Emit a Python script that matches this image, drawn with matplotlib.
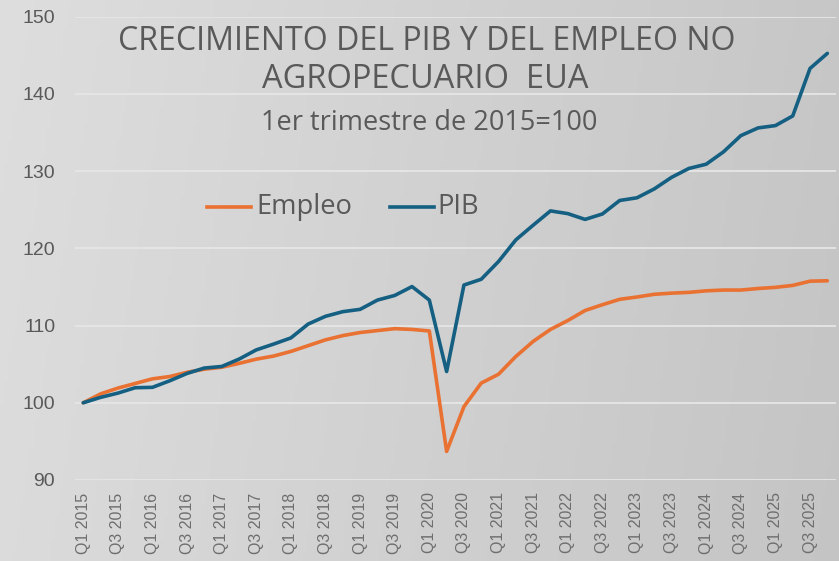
import numpy as np
import matplotlib
matplotlib.use("Agg")
import matplotlib.pyplot as plt
from matplotlib.lines import Line2D

years = list(range(2015, 2026))
quarters = [f"Q{q} {y}" for y in years for q in (1, 2, 3, 4)]

pib = [100.0, 100.7, 101.25, 101.95, 102.0, 102.85, 103.8, 104.5, 104.7, 105.65,
       106.85, 107.6, 108.4, 110.2, 111.2, 111.8, 112.1, 113.3, 113.9, 115.05,
       113.3, 104.05, 115.25, 116.0, 118.3, 121.1, 123.0, 124.85, 124.5, 123.75,
       124.45, 126.2, 126.55, 127.7, 129.2, 130.35, 130.9, 132.5, 134.6, 135.6,
       135.9, 137.15, 143.3, 145.25]
empleo = [100.0, 101.15, 101.9, 102.5, 103.1, 103.4, 103.95, 104.35, 104.6, 105.1,
          105.65, 106.05, 106.65, 107.4, 108.15, 108.7, 109.1, 109.35, 109.6, 109.5,
          109.3, 93.7, 99.5, 102.55, 103.7, 106.0, 107.95, 109.5, 110.65, 111.95,
          112.7, 113.4, 113.7, 114.05, 114.2, 114.3, 114.5, 114.6, 114.6, 114.8,
          114.95, 115.2, 115.75, 115.8]

title1 = "CRECIMIENTO DEL PIB Y DEL EMPLEO NO"
title2 = "AGROPECUARIO  EUA"
subtitle = "1er trimestre de 2015=100"

font = ["Liberation Sans Narrow", "Open Sans", "DejaVu Sans"]
txt = "#595959"
W, H = 839, 561

fig = plt.figure(figsize=(8.39, 5.61), dpi=100)
renderer = fig.canvas.get_renderer()

def fit_text(s, x0, x1, yc, family):
    t = fig.text(0, 0, s, fontsize=20, family=family, color=txt, ha="center", va="center")
    w = t.get_window_extent(renderer).width
    t.set_fontsize(20 * (x1 - x0) / w)
    t.set_position(((x0 + x1) / 2 / W, 1 - yc / H))
    return t

# background gradient
bg = fig.add_axes([0, 0, 1, 1], zorder=0)
gx = np.linspace(0, 1, 200)
gy = np.linspace(0, 1, 100)
X, Y = np.meshgrid(gx, gy)
val = 0.87 - 0.09 * X - 0.01 * Y
bg.imshow(np.dstack([val, val, val]), aspect="auto", extent=[0, 1, 0, 1], origin="upper")
bg.axis("off")

ax = fig.add_axes([0.0889, 0.1444, 0.9075, 0.8258], zorder=1)
ax.patch.set_alpha(0)
x = np.arange(len(quarters))
ax.plot(x, empleo, color="#E97132", lw=2.6, solid_capstyle="round", zorder=3)
ax.plot(x, pib, color="#156082", lw=2.6, solid_capstyle="round", zorder=4)

ax.set_xlim(-0.5, len(quarters) - 0.5)
ax.set_ylim(90, 150)
ax.set_yticks(range(90, 151, 10))
ax.set_xticks(x[::2])
ax.set_xticklabels(quarters[::2], rotation=90, fontsize=11.5, color="#6e6e6e", family="Liberation Sans")
for lab in ax.get_yticklabels():
    lab.set_family("Liberation Sans")
ax.tick_params(axis="y", labelsize=14, colors=txt, length=0, pad=14)
ax.tick_params(axis="x", length=0, pad=9)
ax.grid(axis="y", color="#e6e6e6", lw=1.3)
ax.set_axisbelow(True)
for s in ax.spines.values():
    s.set_visible(False)

fit_text(title1, 118, 736, 42, font)
fit_text(title2, 262, 588, 80, font)
fit_text(subtitle, 262, 597, 123, font)

# legend (manual placement in figure pixels)
ly = 1 - 207 / H
fig.add_artist(Line2D([207 / W, 251 / W], [ly, ly], color="#E97132", lw=2.6, transform=fig.transFigure))
fig.add_artist(Line2D([390 / W, 434 / W], [ly, ly], color="#156082", lw=2.6, transform=fig.transFigure))
te = fit_text("Empleo", 256, 352, 207, font)
tp = fit_text("PIB", 437, 477, 207, font)
sz = te.get_fontsize()
tp.set_fontsize(sz)
tp.set_ha("left")
tp.set_position((437 / W, ly))

fig.savefig("out.png", dpi=100)
